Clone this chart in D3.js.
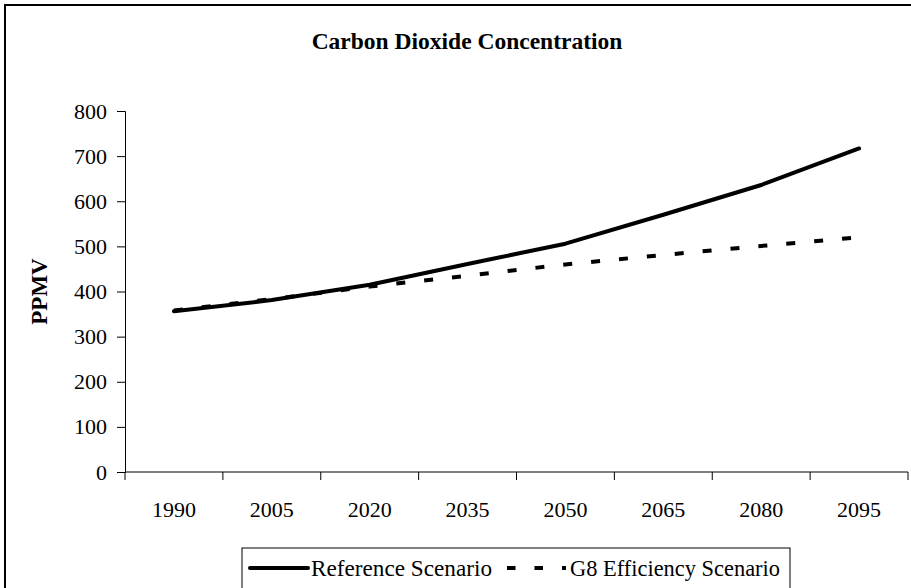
<!DOCTYPE html>
<html>
<head>
<meta charset="utf-8">
<script src="https://cdn.jsdelivr.net/npm/d3@7"></script>
<style>
  body { margin: 0; background: #fff; }
  svg text { font-family: "Liberation Serif", "Times New Roman", serif; fill: #000; }
</style>
</head>
<body>
<div id="chart"></div>
<script>
// data
const years = ["1990", "2005", "2020", "2035", "2050", "2065", "2080", "2095"];
const referenceScenario = [356, 381, 415, 461, 506, 570, 636, 717];
const g8Scenario = [358, 383, 411, 435, 460, 481, 501, 520];
const yTicks = [0, 100, 200, 300, 400, 500, 600, 700, 800];

const width = 911, height = 588;
const margins = {top: 111, right: 3, bottom: 116, left: 125};

const svg = d3.select("#chart").append("svg")
    .attr("width", width).attr("height", height)
    .attr("viewBox", [0, 0, width, height]);

// outer chart frame (runs off the right and bottom of the picture)
svg.append("rect")
    .attr("x", 5).attr("y", 5)
    .attr("width", 960).attr("height", 620)
    .attr("fill", "none").attr("stroke", "#000").attr("stroke-width", 2);

const xScale = d3.scaleBand()
    .domain(years)
    .range([margins.left, width - margins.right]);

const yScale = d3.scaleLinear()
    .domain([0, 800])
    .range([height - margins.bottom, margins.top]);

svg.append("text")
    .attr("x", 467)
    .attr("y", 49)
    .attr("text-anchor", "middle")
    .style("font-size", "23.5px")
    .style("font-weight", "bold")
    .text("Carbon Dioxide Concentration");

svg.append("text")
    .attr("transform", `translate(47, ${(margins.top + height - margins.bottom) / 2}) rotate(-90)`)
    .attr("text-anchor", "middle")
    .style("font-size", "23px")
    .style("font-weight", "bold")
    .text("PPMV");

// y axis
const yGroup = svg.append("g")
    .attr("transform", `translate(${margins.left},0)`)
    .attr("font-family", "Liberation Serif")
    .call(d3.axisLeft(yScale).tickValues(yTicks).tickSize(8).tickPadding(10).tickFormat(d3.format("d")));
yGroup.select(".domain").attr("stroke", "#000");
yGroup.selectAll("text").style("font-size", "22px");

// x axis: ticks between categories, labels centred in each band
const xAxis = d3.axisBottom(xScale).tickSize(0).tickPadding(29);
const xGroup = svg.append("g")
    .attr("transform", `translate(0, ${height - margins.bottom})`)
    .attr("font-family", "Liberation Serif")
    .call(xAxis);
xGroup.select(".domain").attr("d", `M${margins.left},0H${width - margins.right}`).attr("stroke", "#000");
xGroup.selectAll("text").style("font-size", "22px");
const bounds = years.map(y => xScale(y)).concat([xScale(years[years.length - 1]) + xScale.bandwidth()]);
xGroup.selectAll(".sep")
    .data(bounds)
    .enter()
    .append("line")
    .attr("x1", d => d).attr("x2", d => d)
    .attr("y1", 0).attr("y2", 8)
    .attr("stroke", "#000");

const cx = d => xScale(d) + xScale.bandwidth() / 2;

const line = d3.line()
    .x((d, i) => cx(years[i]))
    .y(d => yScale(d));

svg.append("path")
    .datum(g8Scenario)
    .attr("d", line)
    .attr("fill", "none")
    .attr("stroke", "#000")
    .attr("stroke-width", 4)
    .attr("stroke-dasharray", "9,19");

svg.append("path")
    .datum(referenceScenario)
    .attr("d", line)
    .attr("fill", "none")
    .attr("stroke", "#000")
    .attr("stroke-width", 4)
    .attr("stroke-linecap", "round")
    .attr("stroke-linejoin", "round");

// legend
const legend = svg.append("g");
legend.append("rect")
    .attr("x", 242).attr("y", 548)
    .attr("width", 548).attr("height", 60)
    .attr("fill", "#fff").attr("stroke", "#000").attr("stroke-width", 1);

legend.append("line")
    .attr("x1", 250).attr("x2", 308).attr("y1", 568).attr("y2", 568)
    .attr("stroke", "#000").attr("stroke-width", 4).attr("stroke-linecap", "round");
legend.append("text")
    .attr("x", 311).attr("y", 576)
    .attr("textLength", 181).attr("lengthAdjust", "spacingAndGlyphs")
    .style("font-size", "22.5px")
    .text("Reference Scenario");

legend.append("line")
    .attr("x1", 507).attr("x2", 566).attr("y1", 568).attr("y2", 568)
    .attr("stroke", "#000").attr("stroke-width", 4).attr("stroke-dasharray", "8.5,19");
legend.append("text")
    .attr("x", 570).attr("y", 576)
    .attr("textLength", 210).attr("lengthAdjust", "spacingAndGlyphs")
    .style("font-size", "22.5px")
    .text("G8 Efficiency Scenario");
</script>
</body>
</html>
